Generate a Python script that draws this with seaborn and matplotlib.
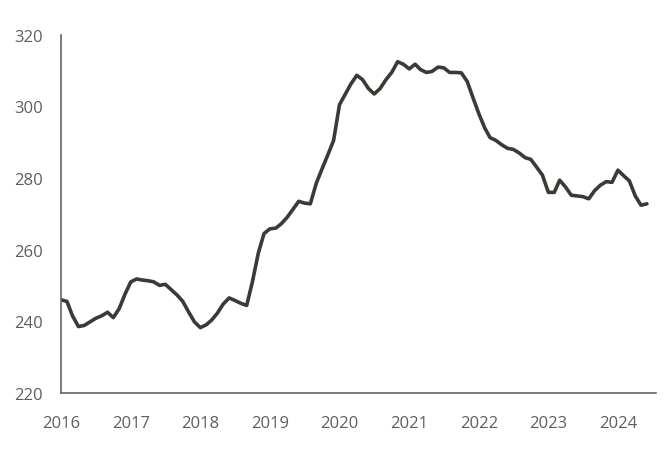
import pandas as pd
import matplotlib
matplotlib.use("Agg")
import matplotlib.pyplot as plt
import matplotlib.dates as mdates
import seaborn as sns

sns.set_style("white")
plt.rcParams["font.family"] = ["Open Sans", "DejaVu Sans"]

# monthly values, Jan 2016 .. Jun 2024
v2016 = [246, 245.5, 241.5, 238.5, 238.8, 239.8, 240.8, 241.5, 242.5, 241, 243.5, 247.5]
v2017 = [251, 251.8, 251.5, 251.3, 251, 250, 250.3, 248.8, 247.3, 245.5, 242.5, 239.8]
v2018 = [238.2, 239, 240.3, 242.3, 244.8, 246.5, 245.8, 245, 244.4, 251, 259, 264.5]
v2019 = [265.8, 266, 267.2, 269, 271.2, 273.5, 273, 272.8, 278.5, 282.5, 286.5, 290.5]
v2020 = [300.5, 303.5, 306.3, 308.7, 307.5, 305, 303.5, 305, 307.5, 309.5, 312.5, 311.8]
v2021 = [310.5, 311.8, 310.3, 309.5, 309.8, 311, 310.8, 309.5, 309.5, 309.4, 307, 302.5]
v2022 = [298, 294, 291.3, 290.5, 289.3, 288.3, 288, 287, 285.7, 285.2, 283, 280.8]
v2023 = [276, 276, 279.4, 277.5, 275.2, 275, 274.8, 274.2, 276.5, 278, 279, 278.8]
v2024 = [282.2, 280.6, 279.2, 275, 272.4, 272.8]

values = v2016 + v2017 + v2018 + v2019 + v2020 + v2021 + v2022 + v2023 + v2024
months = pd.date_range("2016-01-01", periods=len(values), freq="MS")
df = pd.DataFrame({"month": months, "value": values})

years = list(range(2016, 2025))

fig = plt.figure(figsize=(6.71, 4.60), dpi=100)
ax = fig.add_axes([0.091, 0.144, 0.887, 0.778])

sns.lineplot(data=df, x="month", y="value", color="#3d3935", linewidth=2.6, ax=ax)

ax.set_ylim(220, 320)
ax.set_yticks([220, 240, 260, 280, 300, 320])
ax.set_xlim(pd.Timestamp("2016-01-01"), pd.Timestamp("2024-07-20"))
ax.set_xticks([pd.Timestamp(f"{y}-01-01") for y in years])
ax.xaxis.set_major_formatter(mdates.DateFormatter("%Y"))

ax.set_xlabel("")
ax.set_ylabel("")
ax.tick_params(axis="both", length=0, labelsize=12, labelcolor="#5e5e5e")
ax.tick_params(axis="x", pad=16)
ax.tick_params(axis="y", pad=13)

sns.despine(ax=ax)
for side in ["left", "bottom"]:
    ax.spines[side].set_color("#666666")
    ax.spines[side].set_linewidth(1.2)

plt.savefig("out.png", dpi=100)
